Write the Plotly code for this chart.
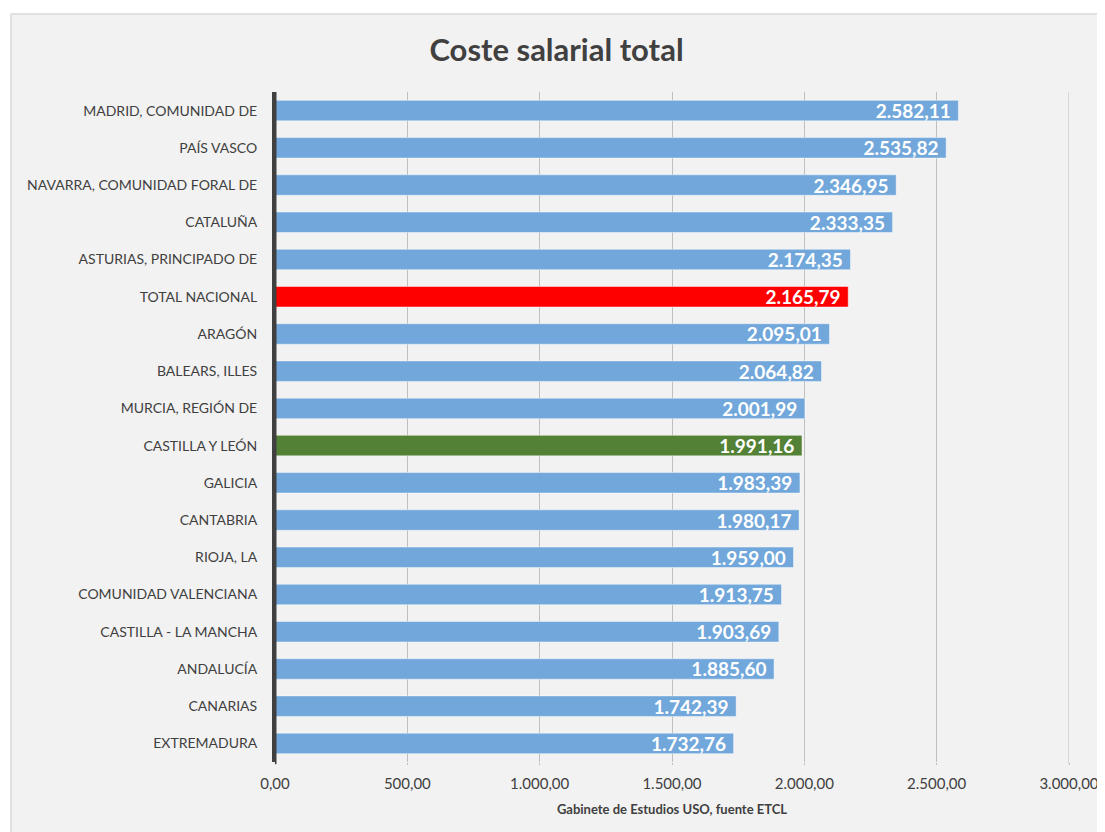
import plotly.graph_objects as go

categories = [
    "MADRID, COMUNIDAD DE", "PAÍS VASCO", "NAVARRA, COMUNIDAD FORAL DE", "CATALUÑA",
    "ASTURIAS, PRINCIPADO DE", "TOTAL NACIONAL", "ARAGÓN", "BALEARS, ILLES",
    "MURCIA, REGIÓN DE", "CASTILLA Y LEÓN", "GALICIA", "CANTABRIA", "RIOJA, LA",
    "COMUNIDAD VALENCIANA", "CASTILLA - LA MANCHA", "ANDALUCÍA", "CANARIAS", "EXTREMADURA",
]
values = [2582.11, 2535.82, 2346.95, 2333.35, 2174.35, 2165.79, 2095.01, 2064.82,
          2001.99, 1991.16, 1983.39, 1980.17, 1959.00, 1913.75, 1903.69, 1885.60,
          1742.39, 1732.76]
tick_values = [0, 500, 1000, 1500, 2000, 2500, 3000]
tick_labels = ["0,00", "500,00", "1.000,00", "1.500,00", "2.000,00", "2.500,00", "3.000,00"]

BLUE = "#71A7DA"
RED = "#FF0000"
GREEN = "#538135"


def fmt_es(v):
    s = f"{v:,.2f}"
    return s.replace(",", "X").replace(".", ",").replace("X", ".")


colors = []
for c in categories:
    if c == "TOTAL NACIONAL":
        colors.append(RED)
    elif c == "CASTILLA Y LEÓN":
        colors.append(GREEN)
    else:
        colors.append(BLUE)

FONT = "Lato, 'Open Sans', sans-serif"

W, H = 1097, 824
ML, MR, MT, MB = 267, 36, 84, 70
PW = W - ML - MR
PH = H - MT - MB
X_MAX = tick_values[-1]

fig = go.Figure(go.Bar(
    y=categories,
    x=values,
    orientation="h",
    marker=dict(color=colors, line=dict(color="rgba(255,255,255,0.45)", width=1)),
    text=[fmt_es(v) + "\u00a0" for v in values],
    textposition="inside",
    insidetextanchor="end",
    constraintext="none",
    textfont=dict(family=FONT, size=19, color="white", weight="bold"),
    cliponaxis=False,
))

fig.update_layout(
    width=W, height=H,
    paper_bgcolor="white",
    plot_bgcolor="#F2F2F2",
    margin=dict(l=ML, r=MR, t=MT, b=MB, autoexpand=False),
    bargap=0.45,
    showlegend=False,
    title=dict(text="<b>Coste salarial total</b>", x=0.5, xanchor="center",
               y=1 - 42 / H, yanchor="middle",
               font=dict(family=FONT, size=31, color="#404040")),
    font=dict(family=FONT, size=14, color="#404040"),
    shapes=[
        dict(type="rect", xref="paper", yref="paper",
             x0=(3 - ML) / PW, x1=(W + 20 - ML) / PW, y0=-(MB + 20) / PH, y1=1 + (MT - 6) / PH,
             fillcolor="#F2F2F2", line=dict(color="#D9D9D9", width=1.5),
             layer="below"),
        dict(type="line", xref="x", yref="paper", x0=X_MAX, x1=X_MAX, y0=-2 / PH, y1=1,
             line=dict(color="#BFBFBF", width=1), layer="below"),
        dict(type="line", xref="x", yref="paper", x0=0, x1=0, y0=-2 / PH, y1=1,
             line=dict(color="#404040", width=3), layer="above"),
    ],
)
fig.update_xaxes(
    range=[0, X_MAX], tickvals=tick_values, ticktext=tick_labels,
    automargin=False,
    showgrid=True, gridcolor="#BFBFBF", gridwidth=1,
    zeroline=False, showline=False, ticks="outside", ticklen=2,
    tickcolor="#BFBFBF", tickwidth=1, ticklabelstandoff=6,
    tickfont=dict(family=FONT, size=15, color="#404040"),
    title=dict(text="<b>Gabinete de Estudios USO, fuente ETCL</b>",
               font=dict(family=FONT, size=13, color="#404040"), standoff=13),
    fixedrange=True,
)
fig.update_yaxes(
    autorange="reversed", automargin=False, showgrid=False, ticks="", ticklabelstandoff=12,
    showline=True, linecolor="#404040", linewidth=3,
    tickfont=dict(family=FONT, size=14, color="#404040"),
)

fig.write_html("out.html")
